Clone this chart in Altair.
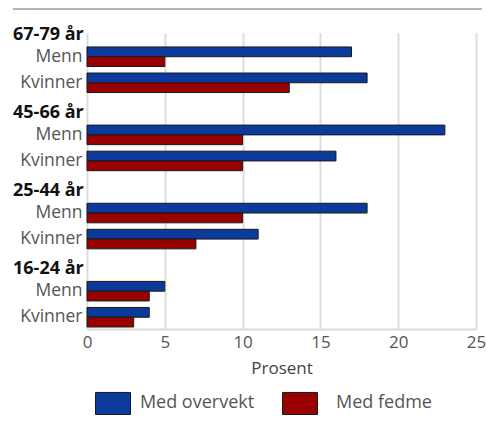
import altair as alt
import pandas as pd

groups = ["67-79 år", "45-66 år", "25-44 år", "16-24 år"]
sexes = ["Menn", "Kvinner"]
series = ["Med overvekt", "Med fedme"]
overvekt = [17, 18, 23, 16, 18, 11, 5, 4]
fedme = [5, 13, 10, 10, 10, 7, 4, 3]
colors = ["#0b3a9b", "#990000"]

# row order on the y scale (gap rows hold the group headers)
row_order = []
for i, g in enumerate(groups):
    if i > 0:
        row_order.append("|gap%d" % i)
    for s in sexes:
        row_order.append(f"{s}|{g}")

records = []
k = 0
for g in groups:
    for s in sexes:
        records.append({"row": f"{s}|{g}", "series": series[0], "value": overvekt[k]})
        records.append({"row": f"{s}|{g}", "series": series[1], "value": fedme[k]})
        k += 1
df = pd.DataFrame(records)
hdr = pd.DataFrame({"row": [f"{sexes[0]}|{g}" for g in groups], "label": groups})

FONT = "Open Sans"

yscale = alt.Scale(domain=row_order, paddingInner=0.25, paddingOuter=0.306, align=0.875)

bars = alt.Chart(df).mark_bar(stroke="#1a1a1a", strokeWidth=1).encode(
    x=alt.X("value:Q", scale=alt.Scale(domain=[0, 25]),
            axis=alt.Axis(values=[0, 5, 10, 15, 20, 25], title="Prosent", grid=True,
                          gridColor="#dcdcdc", gridWidth=2, ticks=False,
                          domain=True, domainColor="#dcdcdc", domainWidth=2,
                          labelFlush=False,
                          labelFont=FONT, labelFontSize=17, labelColor="#555",
                          labelPadding=5, titleFont=FONT, titleFontSize=17,
                          titleFontWeight="normal", titleColor="#444", titlePadding=10)),
    y=alt.Y("row:N", scale=yscale,
            axis=alt.Axis(title=None, ticks=False, domain=False, grid=False,
                          labelExpr="split(datum.label, '|')[0]",
                          labelFont=FONT, labelFontSize=17.5, labelColor="#555",
                          labelPadding=5)),
    yOffset=alt.YOffset("series:N", sort=series),
    color=alt.Color("series:N", sort=series,
                    scale=alt.Scale(domain=series, range=colors),
                    legend=alt.Legend(title=None, orient="none", direction="horizontal",
                                      legendX=8, legendY=352,
                                      symbolType="M-1,-0.63H1V0.63H-1Z", symbolSize=1225,
                                      symbolStrokeColor="#1a1a1a", symbolStrokeWidth=1,
                                      symbolOpacity=1,
                                      labelFont=FONT, labelFontSize=18, labelColor="#555",
                                      labelAlign="center", labelOffset=66,
                                      columnPadding=25)),
)

headers = alt.Chart(hdr).mark_text(
    align="left", baseline="middle", dy=-22, font=FONT, fontSize=18,
    fontWeight="bold", color="#111"
).encode(
    x=alt.value(-74),
    y=alt.Y("row:N", scale=yscale),
    text="label:N",
)

rule = alt.Chart(pd.DataFrame({"a": [0]})).mark_rule(color="#b4b4b4", strokeWidth=2).encode(
    x=alt.value(-74), x2=alt.value(395), y=alt.value(-24)
)

chart = alt.layer(bars, headers, rule).properties(
    width=389, height=296,
    autosize=alt.AutoSizeParams(type="none"),
    padding={"left": 87, "top": 33, "right": 10, "bottom": 96},
    title=alt.TitleParams("Prosent", anchor="start", frame="group", dx=-74, offset=30,
                          baseline="alphabetic", font=FONT, fontSize=20,
                          fontWeight="bold", color="#444"),
).configure_view(stroke=None)

chart.save("out.html", embed_options={"renderer": "svg", "actions": False})
